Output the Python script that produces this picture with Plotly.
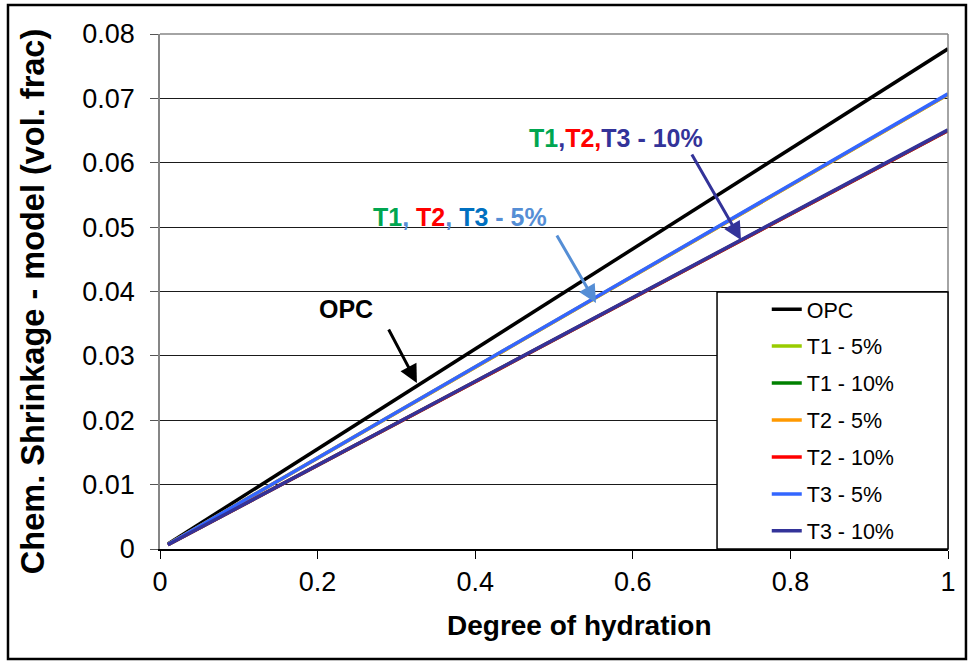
import plotly.graph_objects as go

# ---- data ----
hydration = [0.01, 1.0]
series_names = ["OPC", "T1 - 5%", "T1 - 10%", "T2 - 5%", "T2 - 10%", "T3 - 5%", "T3 - 10%"]
opc = [0.00078, 0.0777]
t1_5 = [0.00071, 0.0706]
t1_10 = [0.00065, 0.0650]
t2_5 = [0.00071, 0.0706]
t2_10 = [0.00065, 0.0650]
t3_5 = [0.00071, 0.0707]
t3_10 = [0.00065, 0.0651]
series_values = [opc, t1_5, t1_10, t2_5, t2_10, t3_5, t3_10]
series_colors = ["#000000", "#99CC00", "#008000", "#FF9900", "#FF0000", "#3366FF", "#333399"]

x_ticks = [0, 0.2, 0.4, 0.6, 0.8, 1]
x_tick_labels = ["0", "0.2", "0.4", "0.6", "0.8", "1"]
y_ticks = [0, 0.01, 0.02, 0.03, 0.04, 0.05, 0.06, 0.07, 0.08]
y_tick_labels = ["0", "0.01", "0.02", "0.03", "0.04", "0.05", "0.06", "0.07", "0.08"]
x_title = "Degree of hydration"
y_title = "Chem. Shrinkage - model (vol. frac)"

FONT = "Arial, 'Liberation Sans', sans-serif"

fig = go.Figure()
for i, (name, vals, col) in enumerate(zip(series_names, series_values, series_colors)):
    fig.add_trace(go.Scatter(
        x=hydration, y=vals, mode="lines", name=name,
        line=dict(color=col, width=3.5), legendgroup=f"g{i}",
    ))

GREEN = "#00A650"
RED = "#FF0000"
BLUE = "#0070C0"
LBLUE = "#558ED5"
DARK = "#333399"

annotations = [
    dict(x=0.199, y=0.0373, xref="x", yref="y", xanchor="left", yanchor="middle",
         text="<b>OPC</b>", showarrow=False, font=dict(size=25, color="black", family=FONT)),
    dict(x=0.268, y=0.0516, xref="x", yref="y", xanchor="left", yanchor="middle",
         text=(f"<b><span style='color:{GREEN}'>T1</span><span style='color:{LBLUE}'>, </span>"
               f"<span style='color:{RED}'>T2</span><span style='color:{LBLUE}'>, </span>"
               f"<span style='color:{BLUE}'>T3</span><span style='color:{LBLUE}'> - 5%</span></b>"),
         showarrow=False, font=dict(size=25, family=FONT)),
    dict(x=0.466, y=0.0638, xref="x", yref="y", xanchor="left", yanchor="middle",
         text=(f"<b><span style='color:{GREEN}'>T1</span><span style='color:{DARK}'>,</span>"
               f"<span style='color:{RED}'>T2,</span>"
               f"<span style='color:{DARK}'>T3 - 10%</span></b>"),
         showarrow=False, font=dict(size=25, family=FONT)),
    # arrows
    dict(x=0.326, y=0.02579, xref="x", yref="y", text="", showarrow=True,
         ax=-29, ay=-55, arrowhead=2, arrowsize=1.2, arrowwidth=3, arrowcolor="black"),
    dict(x=0.5533, y=0.03821, xref="x", yref="y", text="", showarrow=True,
         ax=-40, ay=-69, arrowhead=2, arrowsize=1.2, arrowwidth=3, arrowcolor=LBLUE),
    dict(x=0.7373, y=0.0480, xref="x", yref="y", text="", showarrow=True,
         ax=-50, ay=-87, arrowhead=2, arrowsize=1.2, arrowwidth=3, arrowcolor=DARK),
    # axis titles
    dict(x=0.5317, y=-0.148, xref="paper", yref="paper", xanchor="center", yanchor="middle",
         text=f"<b>{x_title}</b>", showarrow=False,
         font=dict(size=28, family=FONT, color="black")),
    dict(x=-0.162, y=0.480, xref="paper", yref="paper", xanchor="center", yanchor="middle",
         text=f"<b>{y_title}</b>", showarrow=False, textangle=-90,
         font=dict(size=32.5, family=FONT, color="black")),
]

shapes = [
    # outer frame of the chart
    dict(type="rect", xref="paper", yref="paper", x0=-0.1929, x1=1.0228, y0=-0.2136, y1=1.0563,
         line=dict(color="black", width=2.5), layer="below"),
    # top and right plot border (gray)
    dict(type="line", xref="paper", yref="paper", x0=0, x1=1, y0=1, y1=1,
         line=dict(color="#868686", width=1.5)),
    dict(type="line", xref="paper", yref="paper", x0=1, x1=1, y0=0, y1=1,
         line=dict(color="#868686", width=1.5)),
    # legend box
    dict(type="rect", xref="paper", yref="paper", x0=0.7069, x1=1.0, y0=0.0, y1=0.499,
         line=dict(color="black", width=1.5), fillcolor="white", layer="above"),
]

fig.update_layout(
    width=972, height=665,
    margin=dict(l=160, r=24, t=34, b=116),
    paper_bgcolor="white", plot_bgcolor="white",
    font=dict(family=FONT, color="black"),
    showlegend=True,
    legend=dict(x=0.770, y=0.5055, xanchor="left", yanchor="top",
                font=dict(size=21.5, family=FONT, color="black"),
                bgcolor="rgba(0,0,0,0)", borderwidth=0, tracegroupgap=6,
                itemwidth=30),
    annotations=annotations,
    shapes=shapes,
    xaxis=dict(range=[0, 1], tickvals=x_ticks, ticktext=x_tick_labels,
               showgrid=False, zeroline=False, showline=True, linecolor="black", linewidth=1.5,
               ticks="outside", ticklen=8, tickcolor="black", tickwidth=1,
               tickfont=dict(size=27, family=FONT, color="black")),
    yaxis=dict(range=[0, 0.08], tickvals=y_ticks, ticktext=y_tick_labels,
               showgrid=True, gridcolor="#1a1a1a", gridwidth=1,
               zeroline=False, showline=True, linecolor="#868686", linewidth=1.5,
               ticks="outside", ticklen=8, tickcolor="#555555", tickwidth=1,
               ticklabelstandoff=10,
               tickfont=dict(size=27, family=FONT, color="black")),
)

fig.write_html("out.html")
